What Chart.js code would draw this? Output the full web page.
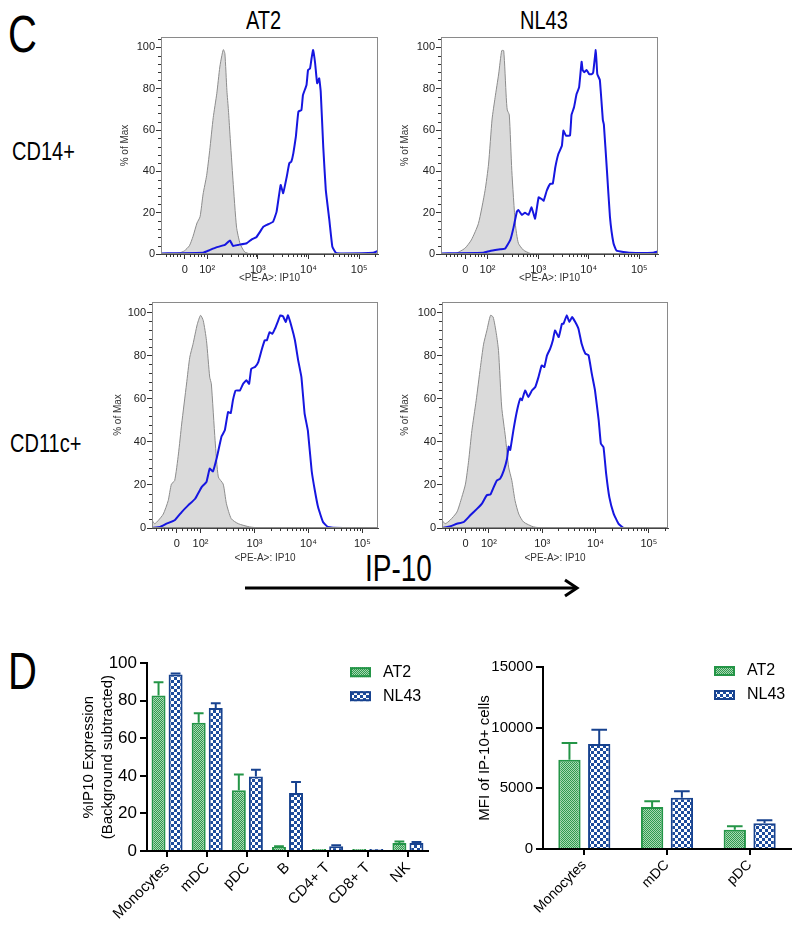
<!DOCTYPE html>
<html>
<head>
<meta charset="utf-8">
<script src="https://cdn.jsdelivr.net/npm/chart.js@4.4.1/dist/chart.umd.min.js"></script>
<style>
  body { margin: 0; width: 800px; height: 926px; position: relative; background: #fff; overflow: hidden;
         font-family: "Liberation Sans", Arial, sans-serif; }
  canvas { position: absolute; }
  .lbl { position: absolute; line-height: 1; white-space: nowrap; color: #000; transform-origin: 0 0; transform: scaleY(1.3); }
</style>
</head>
<body>

<div class="lbl" style="left:8px;top:8px;font-size:40px">C</div>
<div class="lbl" style="left:246px;top:7px;font-size:20px">AT2</div>
<div class="lbl" style="left:520px;top:7px;font-size:20px">NL43</div>
<div class="lbl" style="left:12px;top:138px;font-size:20px">CD14+</div>
<div class="lbl" style="left:10px;top:430px;font-size:20px">CD11c+</div>
<div class="lbl" style="left:365px;top:551px;font-size:28px">IP-10</div>
<div class="lbl" style="left:8px;top:645px;font-size:40px">D</div>

<svg style="position:absolute;left:0;top:0" width="800" height="926">
  <line x1="245" y1="588" x2="575" y2="588" stroke="#000" stroke-width="3"/>
  <polyline points="565,580 577,588 565,596" fill="none" stroke="#000" stroke-width="3"/>
</svg>

<canvas id="h1" width="271" height="261" style="left:115px;top:27px"></canvas>
<canvas id="h2" width="271" height="261" style="left:395px;top:27px"></canvas>
<canvas id="h3" width="278" height="276" style="left:108px;top:292px"></canvas>
<canvas id="h4" width="281" height="276" style="left:395px;top:292px"></canvas>
<canvas id="b1" width="360" height="276" style="left:75px;top:650px"></canvas>
<canvas id="b2" width="327" height="271" style="left:471px;top:655px"></canvas>

<script>
// histogram points: [display position (decades), % of max]
const cd14At2Ctrl = [[1.30,0],[1.45,0.5],[1.55,1.5],[1.65,4],[1.72,8.4],[1.80,15],[1.86,18],[1.92,29],[1.99,38],[2.05,50],[2.12,66],[2.19,77.6],[2.25,90.5],[2.29,96],[2.32,98.9],[2.35,97],[2.39,79],[2.42,69.6],[2.45,58],[2.51,35.7],[2.58,13],[2.65,5],[2.74,1],[2.85,0]];
const cd14At2Stim = [[1.10,0.3],[1.92,0.6],[2.05,1.9],[2.18,3.2],[2.35,4.4],[2.45,6.5],[2.51,3.9],[2.61,4.4],[2.78,5.2],[2.88,7.1],[2.97,8.1],[3.11,13.2],[3.17,14],[3.30,15.6],[3.37,20.5],[3.45,33.4],[3.50,29.4],[3.57,37.4],[3.62,43.9],[3.66,44.7],[3.70,48.7],[3.75,56.8],[3.80,68.9],[3.86,69.7],[3.89,76.9],[3.96,81.8],[3.99,89],[4.03,89.8],[4.06,94.7],[4.09,98.7],[4.13,92.3],[4.17,82.6],[4.21,85],[4.24,78.7],[4.29,51.9],[4.34,31],[4.41,16.5],[4.47,3.5],[4.54,0.6],[4.68,0.3],[5.28,0.6],[5.38,1.6]];
const cd14Nl43Ctrl = [[1.36,0],[1.55,2.7],[1.68,6.8],[1.82,14.8],[1.95,30.6],[2.02,43.5],[2.09,65.3],[2.15,75.8],[2.22,87.1],[2.28,98.4],[2.32,98.4],[2.37,75.8],[2.39,69.7],[2.43,67.3],[2.48,40.3],[2.55,14.5],[2.61,5.2],[2.71,1.9],[2.84,0.3],[2.95,0]];
const cd14Nl43Stim = [[1.10,0.3],[1.92,0.6],[2.05,1.5],[2.25,2.3],[2.35,2.7],[2.45,6.8],[2.51,12.4],[2.58,20.5],[2.61,21.3],[2.68,18.9],[2.74,20],[2.81,18.9],[2.87,22.6],[2.94,17.1],[3.01,27.4],[3.07,26.6],[3.11,25.8],[3.17,30.6],[3.24,34],[3.29,34],[3.34,42],[3.40,48.4],[3.47,52.4],[3.50,59.7],[3.55,57.3],[3.63,57.3],[3.66,67.3],[3.71,71],[3.76,77.4],[3.81,80.6],[3.86,93],[3.88,89],[3.91,88],[3.96,89],[4.01,87],[4.06,87],[4.09,88],[4.14,98.7],[4.17,87],[4.22,84.2],[4.28,64.8],[4.30,62.6],[4.36,40.6],[4.42,18],[4.49,5.2],[4.55,1.6],[4.82,0.6],[5.28,0.6],[5.38,1.3]];
const cd11cAt2Ctrl = [[1.10,3.6],[1.15,2],[1.22,3.6],[1.31,6.5],[1.40,12.7],[1.46,20.4],[1.52,22],[1.59,34.4],[1.65,48.3],[1.74,66.9],[1.80,79.3],[1.86,85.4],[1.94,94.7],[2.00,98.8],[2.05,96.4],[2.11,87.1],[2.17,70.1],[2.20,67],[2.27,40.6],[2.33,23.7],[2.42,20.4],[2.48,11.3],[2.57,4.3],[2.70,2],[2.91,0.5],[3.10,0]];
const cd11cAt2Stim = [[1.10,0],[1.25,0.5],[1.37,2],[1.52,3.6],[1.65,7.4],[1.77,10.5],[1.90,13.6],[2.02,19],[2.11,21.4],[2.17,27.6],[2.23,26.3],[2.30,32.5],[2.39,42.6],[2.45,45.4],[2.51,53.9],[2.56,53.4],[2.60,59.3],[2.65,63.9],[2.73,63.9],[2.79,67],[2.85,68.6],[2.90,67],[2.94,74],[3.01,74.8],[3.07,77.1],[3.13,82.5],[3.19,87.2],[3.23,87.2],[3.28,91],[3.33,90.2],[3.38,92.6],[3.44,96.4],[3.48,98.8],[3.53,98.3],[3.58,95.7],[3.62,98.8],[3.69,93.3],[3.75,87.2],[3.81,77.9],[3.87,70.1],[3.93,53],[3.99,45.2],[4.06,26.6],[4.12,17.3],[4.18,9.6],[4.27,2.8],[4.36,0.5],[4.64,0],[5.29,0]];
const cd11cNl43Ctrl = [[1.12,3.6],[1.18,2],[1.27,3.6],[1.40,7.4],[1.49,14.2],[1.56,20.4],[1.62,31.3],[1.68,45.2],[1.76,59.1],[1.84,74.6],[1.90,85.4],[1.96,91.6],[2.03,98.8],[2.08,98],[2.14,90.2],[2.18,82.5],[2.24,56.2],[2.31,42.3],[2.37,28.3],[2.43,22.1],[2.49,12.8],[2.56,6.5],[2.65,2.8],[2.84,0.5],[3.03,0]];
const cd11cNl43Stim = [[1.12,0],[1.28,0.8],[1.40,2],[1.53,2.8],[1.65,5.9],[1.78,9],[1.87,11.3],[1.96,15.2],[2.03,15.6],[2.09,19],[2.15,22.1],[2.21,22.9],[2.28,26.8],[2.34,32.2],[2.37,37.8],[2.40,36.2],[2.46,45.5],[2.53,54.8],[2.59,60.2],[2.62,59.4],[2.68,63.9],[2.74,60.9],[2.81,64],[2.87,65.5],[2.93,70.1],[2.99,75.5],[3.04,74.8],[3.09,80.2],[3.15,83.3],[3.20,87.2],[3.24,91.8],[3.31,88.7],[3.37,94.9],[3.40,94.9],[3.46,98.8],[3.51,95.7],[3.56,98],[3.62,95.7],[3.68,92.6],[3.74,85.6],[3.81,81],[3.87,80.2],[3.93,71.7],[3.99,64],[4.06,50],[4.10,39.2],[4.15,37.6],[4.20,25.1],[4.26,14.2],[4.34,6.7],[4.43,2],[4.53,0],[5.40,0]];

const histYTicks = [0, 20, 40, 60, 80, 100];
const histXTicks = [1.56, 2, 3, 4, 5];
const histXLabels = ['0', '10²', '10³', '10⁴', '10⁵'];

// panel D
const cellTypes = ['Monocytes', 'mDC', 'pDC', 'B', 'CD4+ T', 'CD8+ T', 'NK'];
const pctAT2 = [82.8, 68.3, 32.3, 2.1, 0.3, 0.4, 4.3];
const pctAT2Err = [7.1, 5.1, 8.5, 0.4, 0, 0, 0.8];
const pctNL43 = [94.0, 76.1, 39.7, 30.9, 2.5, 0.5, 4.2];
const pctNL43Err = [0.5, 2.6, 3.6, 5.8, 0.5, 0, 0.6];

const mfiTypes = ['Monocytes', 'mDC', 'pDC'];
const mfiAT2 = [7363, 3462, 1593];
const mfiAT2Err = [1373, 467, 275];
const mfiNL43 = [8654, 4231, 2115];
const mfiNL43Err = [1181, 522, 248];

Chart.defaults.font.family = '"Liberation Sans", Arial, sans-serif';
Chart.defaults.color = '#000';

// minor ticks + frame for the flow histograms
const histDecor = {
  id: 'histDecor',
  afterDraw(chart) {
    const { ctx, chartArea: a, scales: { x, y } } = chart;
    ctx.save();
    ctx.strokeStyle = '#333';
    ctx.lineWidth = 1;
    ctx.beginPath();
    for (let v = 4; v <= 104; v += 4) {
      if (v % 20 === 0) continue;
      const py = Math.round(y.getPixelForValue(v)) + 0.5;
      ctx.moveTo(a.left - 3, py); ctx.lineTo(a.left, py);
    }
    const minor = [1.18, 1.26, 1.33, 1.40, 1.47, 1.66, 1.75, 1.82, 1.88, 1.93];
    for (let d = 2; d <= 5; d++) for (let k = 2; k <= 9; k++) minor.push(d + Math.log10(k));
    minor.forEach(v => {
      if (v < x.min || v > x.max) return;
      const px = Math.round(x.getPixelForValue(v)) + 0.5;
      ctx.moveTo(px, a.bottom); ctx.lineTo(px, a.bottom + 3);
    });
    ctx.stroke();
    ctx.strokeStyle = '#8a8a8a';
    ctx.strokeRect(a.left + 0.5, a.top + 0.5, a.width - 1, a.height - 1);
    ctx.restore();
  }
};

function makeHist(id, stim, ctrl, xMin, xMax, yAxisW, xAxisH) {
  new Chart(document.getElementById(id), {
    type: 'line',
    data: {
      datasets: [
        { data: stim, borderColor: '#1616e0', borderWidth: 2, pointRadius: 0, fill: false, tension: 0.1 },
        { data: ctrl, borderColor: '#8c8c8c', borderWidth: 1, backgroundColor: '#dadada', pointRadius: 0, fill: 'origin', tension: 0.2 }
      ]
    },
    options: {
      responsive: false,
      animation: false,
      events: [],
      layout: { padding: { top: 10, right: 8, left: 0, bottom: 0 } },
      plugins: { legend: { display: false }, tooltip: { enabled: false } },
      scales: {
        x: {
          type: 'linear', min: xMin, max: xMax,
          afterBuildTicks: s => { s.ticks = histXTicks.map(v => ({ value: v })); },
          afterFit: s => { s.height = xAxisH; },
          ticks: { autoSkip: false, maxRotation: 0, padding: 4, font: { size: 11 }, color: '#222',
                   callback: (v, i) => histXLabels[i] },
          grid: { drawOnChartArea: false, tickLength: 5, color: '#333' },
          border: { color: '#444' },
          title: { display: true, text: '<PE-A>: IP10', font: { size: 10 }, color: '#333' }
        },
        y: {
          min: 0, max: 105,
          afterBuildTicks: s => { s.ticks = histYTicks.map(v => ({ value: v })); },
          afterFit: s => { s.width = yAxisW; },
          ticks: { padding: 1, font: { size: 11 }, color: '#222' },
          grid: { drawOnChartArea: false, tickLength: 5, color: '#333' },
          border: { color: '#444' },
          title: { display: true, text: '% of Max', font: { size: 10 }, color: '#333' }
        }
      }
    },
    plugins: [histDecor]
  });
}

makeHist('h1', cd14At2Stim, cd14At2Ctrl, 1.09, 5.37, 46, 34);
makeHist('h2', cd14Nl43Stim, cd14Nl43Ctrl, 1.08, 5.37, 46, 34);
makeHist('h3', cd11cAt2Stim, cd11cAt2Ctrl, 1.10, 5.29, 44, 40);
makeHist('h4', cd11cNl43Stim, cd11cNl43Ctrl, 1.12, 5.36, 47, 40);

// fill patterns for the bars
function checker(size, c1, c2) {
  const c = document.createElement('canvas');
  c.width = c.height = size * 2;
  const g = c.getContext('2d');
  g.fillStyle = c2; g.fillRect(0, 0, size * 2, size * 2);
  g.fillStyle = c1; g.fillRect(0, 0, size, size); g.fillRect(size, size, size, size);
  return g.createPattern(c, 'repeat');
}
const at2Fill = checker(1, '#2f9a50', '#a9d8b2');
const nl43Fill = checker(3, '#1d4c9c', '#ffffff');

const errorBars = {
  id: 'errorBars',
  afterDatasetsDraw(chart) {
    const { ctx, scales: { y } } = chart;
    chart.data.datasets.forEach((ds, i) => {
      chart.getDatasetMeta(i).data.forEach((bar, j) => {
        const err = ds.errors[j];
        if (!err) return;
        const top = y.getPixelForValue(ds.data[j] + err);
        const cap = bar.width * 0.35;
        ctx.save();
        ctx.strokeStyle = ds.borderColor;
        ctx.lineWidth = 2;
        ctx.beginPath();
        ctx.moveTo(bar.x, bar.y); ctx.lineTo(bar.x, top);
        ctx.moveTo(bar.x - cap, top); ctx.lineTo(bar.x + cap, top);
        ctx.stroke();
        ctx.restore();
      });
    });
  }
};

const boxLegend = {
  id: 'boxLegend',
  afterDraw(chart, args, opts) {
    const { ctx, chartArea } = chart;
    chart.data.datasets.forEach((ds, i) => {
      const x = chartArea.right - opts.right;
      const y = chartArea.top + opts.top + i * 24;
      ctx.save();
      ctx.fillStyle = ds.backgroundColor;
      ctx.fillRect(x, y, 21, 10);
      ctx.strokeStyle = ds.borderColor;
      ctx.lineWidth = 2;
      ctx.strokeRect(x + 1, y + 1, 19, 8);
      ctx.fillStyle = '#000';
      ctx.font = '16px "Liberation Sans", Arial, sans-serif';
      ctx.textBaseline = 'middle';
      ctx.fillText(ds.label, x + 33, y + 5);
      ctx.restore();
    });
  }
};

function makeBars(id, labels, a, aErr, b, bErr, yMax, yStep, yTitle, cp, bp, yAxisW, xAxisH, fs, legendPos) {
  new Chart(document.getElementById(id), {
    type: 'bar',
    data: {
      labels: labels,
      datasets: [
        { label: 'AT2', data: a, errors: aErr, backgroundColor: at2Fill, borderColor: '#249547', borderWidth: 2,
          categoryPercentage: cp, barPercentage: bp, minBarLength: 2 },
        { label: 'NL43', data: b, errors: bErr, backgroundColor: nl43Fill, borderColor: '#17428f', borderWidth: 2,
          categoryPercentage: cp, barPercentage: bp, minBarLength: 2 }
      ]
    },
    options: {
      responsive: false,
      animation: false,
      events: [],
      layout: { padding: { top: 12, right: 7, left: 0, bottom: 0 } },
      plugins: { legend: { display: false }, tooltip: { enabled: false }, boxLegend: legendPos },
      scales: {
        x: {
          afterFit: s => { s.height = xAxisH; },
          ticks: { autoSkip: false, minRotation: 45, maxRotation: 45, padding: 2, font: { size: fs.x } },
          grid: { offset: false, drawOnChartArea: false, tickLength: 6, color: '#000', lineWidth: 2 },
          border: { color: '#000', width: 2 }
        },
        y: {
          min: 0, max: yMax,
          afterFit: s => { s.width = yAxisW; },
          ticks: { stepSize: yStep, padding: 3, font: { size: fs.y }, callback: v => String(v) },
          grid: { drawOnChartArea: false, tickLength: 7, color: '#000', lineWidth: 2 },
          border: { color: '#000', width: 2 },
          title: { display: true, text: yTitle, font: { size: 15, lineHeight: 1.3 } }
        }
      }
    },
    plugins: [errorBars, boxLegend]
  });
}

makeBars('b1', cellTypes, pctAT2, pctAT2Err, pctNL43, pctNL43Err, 100, 20,
  ['%IP10 Expression', '(Background subtracted)'], 0.85, 0.82, 72, 75, { x: 15, y: 17 }, { right: 78, top: 4 });
makeBars('b2', mfiTypes, mfiAT2, mfiAT2Err, mfiNL43, mfiNL43Err, 15000, 5000,
  'MFI of IP-10+ cells', 0.72, 0.75, 72, 77, { x: 14, y: 15 }, { right: 77, top: -1 });
</script>
</body>
</html>
